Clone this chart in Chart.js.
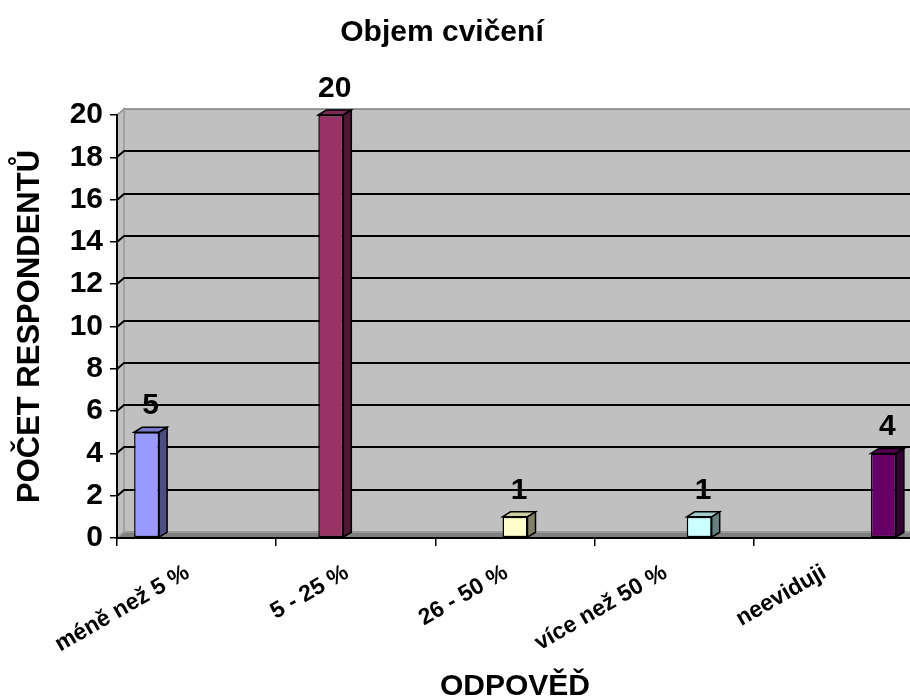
<!DOCTYPE html>
<html>
<head>
<meta charset="utf-8">
<script src="https://cdn.jsdelivr.net/npm/chart.js@4/dist/chart.umd.min.js"></script>
<style>
  html, body { margin: 0; padding: 0; background: #ffffff; overflow: hidden; }
  canvas { display: block; }
</style>
</head>
<body>
<canvas id="chart" width="920" height="700"></canvas>
<script>
// ---- data ----
const chartTitle = 'Objem cvičení';
const xAxisTitle = 'ODPOVĚĎ';
const yAxisTitle = 'POČET RESPONDENTŮ';
const categories = ['méně než 5 %', '5 - 25 %', '26 - 50 %', 'více než 50 %', 'neeviduji'];
const respondents = [5, 20, 1, 1, 4];
const yMin = 0;
const yMax = 20;
const yStep = 2;

// ---- colours (front, top and side faces of each column) ----
const frontColors = ['#9999FF', '#993366', '#FFFFCC', '#CCFFFF', '#660066'];
const topColors   = ['#7A7ACC', '#7A2952', '#CCCCA3', '#A3CCCC', '#520052'];
const sideColors  = ['#4D4D80', '#4D1A33', '#808066', '#668080', '#330033'];

const FONT = "'Liberation Sans', Arial, Helvetica, sans-serif";
Chart.defaults.font.family = FONT;
Chart.defaults.color = '#000';

// depth of the box walls and of the columns
const WALL_DX = 7, WALL_DY = 6;
const BAR_DX = 8, BAR_DY = 5;

// one series per answer, so every column sits in its own slot of the group
const datasets = categories.map((c, i) => ({
  label: c,
  data: categories.map((_, j) => (j === i ? respondents[i] : null)),
  backgroundColor: frontColors[i],
  borderColor: '#000',
  borderWidth: 1.5,
  borderSkipped: false
}));

function poly(ctx, pts, fill, stroke, lw) {
  ctx.beginPath();
  ctx.moveTo(pts[0][0], pts[0][1]);
  for (let k = 1; k < pts.length; k++) ctx.lineTo(pts[k][0], pts[k][1]);
  ctx.closePath();
  if (fill) { ctx.fillStyle = fill; ctx.fill(); }
  if (stroke) { ctx.strokeStyle = stroke; ctx.lineWidth = lw || 1; ctx.stroke(); }
}

const box3d = {
  id: 'box3d',
  beforeDraw(chart) {
    const { ctx, chartArea: a, scales: { y } } = chart;
    const L = a.left, R = a.right, T = a.top, B = a.bottom;
    ctx.save();
    // back wall
    poly(ctx, [[L + WALL_DX, T - WALL_DY], [R + WALL_DX, T - WALL_DY], [R + WALL_DX, B - WALL_DY], [L + WALL_DX, B - WALL_DY]], '#C0C0C0', '#808080', 1.5);
    // side wall
    poly(ctx, [[L, T], [L + WALL_DX, T - WALL_DY], [L + WALL_DX, B - WALL_DY], [L, B]], '#C0C0C0', '#8C8C8C', 1.5);
    ctx.strokeStyle = '#A8A8A8';
    ctx.lineWidth = 1.5;
    ctx.beginPath();
    ctx.moveTo(L + WALL_DX, T - WALL_DY);
    ctx.lineTo(L + WALL_DX, B - WALL_DY);
    ctx.stroke();
    // floor
    poly(ctx, [[L, B], [L + WALL_DX, B - WALL_DY], [R + WALL_DX, B - WALL_DY], [R, B]], '#808080', '#A0A0A0', 1.5);
    // gridlines across the side and back walls
    ctx.strokeStyle = '#000';
    ctx.lineWidth = 2;
    y.ticks.forEach(t => {
      if (t.value <= y.min || t.value >= y.max) return;
      const py = Math.round(y.getPixelForValue(t.value));
      ctx.beginPath();
      ctx.moveTo(L, py);
      ctx.lineTo(L + WALL_DX, py - WALL_DY);
      ctx.lineTo(R + WALL_DX, py - WALL_DY);
      ctx.stroke();
    });
    ctx.restore();
  },
  afterDatasetsDraw(chart) {
    const { ctx } = chart;
    ctx.save();
    chart.data.datasets.forEach((ds, i) => {
      const meta = chart.getDatasetMeta(i);
      const el = meta.data[i];
      if (!el) return;
      const { x, y, base, width } = el.getProps(['x', 'y', 'base', 'width'], true);
      const l = x - width / 2, r = x + width / 2;
      // top face
      poly(ctx, [[l, y], [l + BAR_DX, y - BAR_DY], [r + BAR_DX, y - BAR_DY], [r, y]], topColors[i], '#000', 1.5);
      // side face
      poly(ctx, [[r, y], [r + BAR_DX, y - BAR_DY], [r + BAR_DX, base - BAR_DY], [r, base]], sideColors[i], '#000', 1.5);
      // value label
      ctx.fillStyle = '#000';
      ctx.font = 'bold 30px ' + FONT;
      ctx.textAlign = 'center';
      ctx.textBaseline = 'alphabetic';
      ctx.fillText(String(respondents[i]), x + BAR_DX / 2, y - 18);
    });
    ctx.restore();
  },
  afterDraw(chart) {
    const { ctx } = chart;
    ctx.save();
    ctx.fillStyle = '#000';
    ctx.font = 'bold 30px ' + FONT;
    ctx.textAlign = 'center';
    ctx.textBaseline = 'alphabetic';
    ctx.fillText(chartTitle, 442, 41);
    ctx.restore();
  }
};

new Chart(document.getElementById('chart'), {
  type: 'bar',
  data: { labels: categories, datasets },
  plugins: [box3d],
  options: {
    responsive: false,
    animation: false,
    devicePixelRatio: 1,
    layout: { padding: { top: 115, right: 7, left: 0, bottom: 0 } },
    datasets: { bar: { categoryPercentage: 0.785, barPercentage: 1 } },
    plugins: { legend: { display: false }, tooltip: { enabled: false } },
    scales: {
      x: {
        grid: { offset: true, drawOnChartArea: false, drawTicks: true, tickLength: 8, color: '#000', lineWidth: 1.5 },
        border: { display: true, color: '#000', width: 2 },
        ticks: { font: { size: 23, weight: 'bold' }, color: '#000', minRotation: 30, maxRotation: 30, autoSkip: false, padding: 13, labelOffset: -9 },
        title: { display: true, text: xAxisTitle, color: '#000', font: { size: 30, weight: 'bold', lineHeight: 0.9 }, padding: 0 },
        afterFit(scale) { scale.height = 162; }
      },
      y: {
        min: yMin,
        max: yMax,
        ticks: { stepSize: yStep, font: { size: 30, weight: 'bold' }, color: '#000', padding: 7 },
        grid: { drawOnChartArea: false, drawTicks: true, tickLength: 7, color: '#000', lineWidth: 1.5 },
        border: { display: true, color: '#000', width: 2 },
        title: { display: true, text: yAxisTitle, color: '#000', font: { size: 31, weight: 'bold' }, padding: { top: 12, bottom: 0 } },
        afterFit(scale) { scale.width = 117; }
      }
    }
  }
});
</script>
</body>
</html>
